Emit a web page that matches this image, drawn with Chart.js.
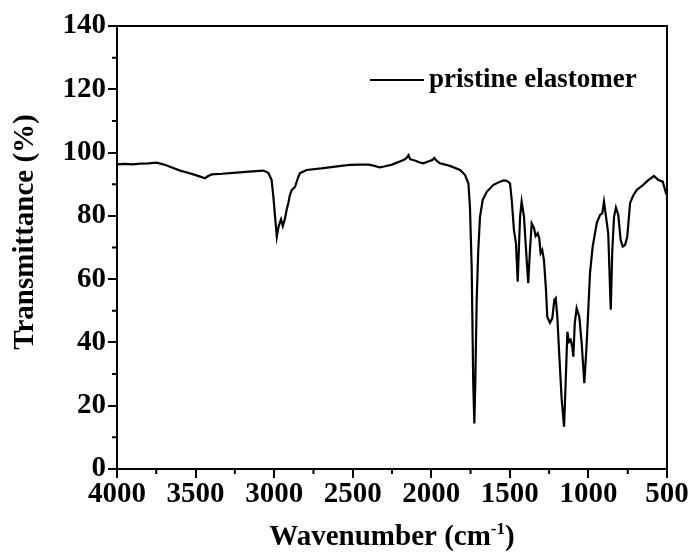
<!DOCTYPE html>
<html><head><meta charset="utf-8">
<script src="https://cdn.jsdelivr.net/npm/chart.js@4"></script>
<style>html,body{margin:0;padding:0;background:#fff;}canvas{display:block;}</style>
</head><body>
<canvas id="c" width="691" height="556"></canvas>
<script>
const wavenumbers = [4000,3950,3900,3850,3800,3748,3700,3663,3630,3599,3560,3514,3470,3440,3420,3397,3330,3260,3160,3069,3037,3016,3005,2994,2983,2976,2969,2956,2945,2931,2920,2910,2900,2888,2878,2867,2850,2836,2793,2700,2624,2560,2517,2460,2400,2360,2330,2300,2250,2200,2170,2155,2145,2135,2100,2070,2050,2020,1995,1980,1970,1945,1881,1817,1785,1764,1754,1743,1733,1726,1720,1711,1701,1690,1673,1647,1605,1563,1540,1520,1499,1488,1474,1461,1450,1442,1435,1425,1410,1397,1383,1372,1361,1346,1336,1323,1313,1304,1294,1283,1270,1262,1245,1230,1217,1208,1198,1185,1170,1155,1145,1134,1124,1113,1103,1096,1087,1075,1058,1043,1026,1011,990,973,947,926,912,901,888,874,858,848,837,825,810,795,782,767,753,735,718,693,651,619,583,555,527,506,500];
const transmittance = [96.3,96.4,96.3,96.5,96.6,96.8,96.2,95.5,94.9,94.3,93.8,93.1,92.4,91.9,92.6,93.1,93.3,93.6,94.0,94.3,93.6,91.3,86.1,79.7,73.4,75.5,77.1,78.9,76.8,79.2,82.0,84.0,86.5,88.2,88.6,89.2,91.8,93.5,94.5,95.0,95.5,95.9,96.1,96.2,96.2,95.8,95.3,95.6,96.2,97.2,97.8,98.4,99.2,97.9,97.4,96.8,96.6,97.2,97.6,98.3,97.6,96.6,95.8,94.5,92.9,90.3,82.9,63.9,27.2,14.4,27.0,53.4,69.2,79.7,85.0,87.6,89.8,90.8,91.2,91.1,90.3,85.0,75.5,71.3,59.2,70.3,79.7,84.5,79.7,69.2,58.7,69.2,77.6,76.1,73.6,74.5,72.9,68.2,69.2,66.0,56.6,48.1,46.2,47.6,53.4,54.0,48.1,35.5,21.8,13.4,27.1,43.4,40.2,40.8,38.7,35.5,46.0,50.8,48.1,39.7,27.1,39.7,61.9,70.3,77.7,80.3,80.8,84.5,79.7,74.5,50.3,69.2,79.7,82.6,80.3,72.4,70.3,70.8,73.4,84.0,86.1,88.2,89.8,91.3,92.6,91.3,90.8,87.1,86.5];
const xTicks = [4000,3500,3000,2500,2000,1500,1000,500];
const yTicks = [0,20,40,60,80,100,120,140];
const seriesLabel = 'pristine elastomer';
const xTitleMain = 'Wavenumber (cm';
const xTitleSup = '-1';
const xTitleEnd = ')';
const yTitle = 'Transmittance (%)';

const FAMILY = '"Liberation Serif", "Times New Roman", serif';
const FS = 29;

function mids(arr){ const m=[]; for(let i=0;i<arr.length-1;i++) m.push((arr[i]+arr[i+1])/2); return m; }

const decor = {
  id: 'decor',
  afterDraw(chart){
    const ctx = chart.ctx, a = chart.chartArea;
    const xs = chart.scales.x, ys = chart.scales.y;
    ctx.save();
    ctx.strokeStyle = '#000'; ctx.lineWidth = 2;
    ctx.strokeRect(a.left, a.top, a.right - a.left, a.bottom - a.top);
    ctx.beginPath();
    mids(xTicks).forEach(v => { const p = xs.getPixelForValue(v); ctx.moveTo(p, a.bottom); ctx.lineTo(p, a.bottom + 5); });
    mids(yTicks).forEach(v => { const p = ys.getPixelForValue(v); ctx.moveTo(a.left - 5, p); ctx.lineTo(a.left, p); });
    ctx.stroke();
    ctx.fillStyle = '#000';
    ctx.save();
    ctx.translate(26, 232);
    ctx.rotate(-Math.PI/2);
    ctx.font = 'bold ' + FS + 'px ' + FAMILY;
    ctx.textAlign = 'center'; ctx.textBaseline = 'middle';
    ctx.fillText(yTitle, 0, 0);
    ctx.restore();
    const fMain = 'bold ' + FS + 'px ' + FAMILY;
    const fSup = 'bold ' + Math.round(FS*0.6) + 'px ' + FAMILY;
    ctx.font = fMain; const w1 = ctx.measureText(xTitleMain).width; const w3 = ctx.measureText(xTitleEnd).width;
    ctx.font = fSup; const w2 = ctx.measureText(xTitleSup).width;
    const cx = (a.left + a.right)/2;
    let x0 = cx - (w1 + w2 + w3)/2;
    const yb = 545;
    ctx.textAlign = 'left'; ctx.textBaseline = 'alphabetic';
    ctx.font = fMain; ctx.fillText(xTitleMain, x0, yb);
    ctx.font = fSup; ctx.fillText(xTitleSup, x0 + w1, yb - 11);
    ctx.font = fMain; ctx.fillText(xTitleEnd, x0 + w1 + w2, yb);
    const ly = 80;
    ctx.beginPath(); ctx.moveTo(370, ly); ctx.lineTo(424, ly); ctx.lineWidth = 2; ctx.stroke();
    ctx.font = 'bold 27px ' + FAMILY;
    ctx.textBaseline = 'middle';
    ctx.fillText(chart.data.datasets[0].label, 429, ly);
    ctx.restore();
  }
};

new Chart(document.getElementById('c'), {
  type: 'line',
  data: {
    datasets: [{
      label: seriesLabel,
      data: wavenumbers.map((w, i) => ({ x: w, y: transmittance[i] })),
      borderColor: '#000',
      borderWidth: 2.2,
      pointRadius: 0,
      tension: 0,
      fill: false
    }]
  },
  options: {
    responsive: false,
    animation: false,
    devicePixelRatio: 1,
    layout: { padding: { top: 26, right: 24, left: 0, bottom: 0 } },
    plugins: { legend: { display: false }, tooltip: { enabled: false } },
    scales: {
      x: {
        type: 'linear', reverse: true, min: 500, max: 4000,
        afterBuildTicks: s => { s.ticks = xTicks.map(v => ({ value: v })); },
        afterFit: s => { s.height = 87; },
        grid: { drawOnChartArea: false, drawTicks: true, tickLength: 9, color: '#000', lineWidth: 2 },
        border: { display: true, color: '#000', width: 2 },
        ticks: { color: '#000', padding: 2, maxRotation: 0, autoSkip: false, callback: v => String(v), font: { family: FAMILY, size: FS, weight: 'bold', lineHeight: 1 } }
      },
      y: {
        type: 'linear', min: 0, max: 140,
        afterBuildTicks: s => { s.ticks = yTicks.map(v => ({ value: v })); },
        afterFit: s => { s.width = 117; },
        grid: { drawOnChartArea: false, drawTicks: true, tickLength: 9, color: '#000', lineWidth: 2 },
        border: { display: true, color: '#000', width: 2 },
        ticks: { color: '#000', padding: 2, callback: v => String(v), font: { family: FAMILY, size: FS, weight: 'bold', lineHeight: 1 } }
      }
    }
  },
  plugins: [decor]
});
</script>
</body></html>
